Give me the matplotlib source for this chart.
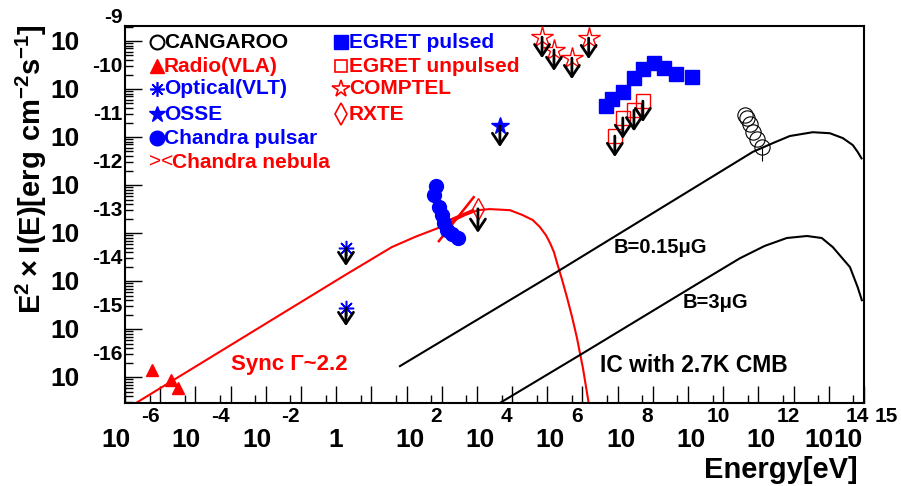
import matplotlib
matplotlib.use("Agg")
import matplotlib.pyplot as plt
from matplotlib.transforms import offset_copy

plt.rcParams["font.family"] = ["Liberation Sans", "DejaVu Sans"]
plt.rcParams["font.weight"] = "bold"
plt.rcParams["mathtext.fontset"] = "custom"
plt.rcParams["mathtext.rm"] = "Liberation Sans"
plt.rcParams["mathtext.bf"] = "Liberation Sans:bold"

RED = "#ff0000"
BLUE = "#0000ff"

# ── data (energy in eV, E^2 I(E) in erg cm^-2 s^-1) ────────────────────────────
sync_E = [1.0e-6, 1.78, 38, 173, 780, 4.6e3, 1.07e4, 2.3e4, 8.7e4, 2.0e5, 3.9e5,
          6.2e5, 9.1e5, 1.2e6, 1.55e6, 1.9e6, 2.6e6, 3.6e6, 5.0e6, 6.9e6,
          1.03e7, 1.5e7, 1.85e7]
sync_F = [2.1e-17, 1.33e-14, 5.1e-14, 8.3e-14, 1.27e-13, 2.37e-13, 3.0e-13,
          3.16e-13, 3.0e-13, 2.37e-13, 1.86e-13, 1.33e-13, 9.1e-14, 6.2e-14,
          4.0e-14, 2.37e-14, 1.1e-14, 4.7e-15, 1.86e-15, 6.8e-16, 1.55e-16,
          2.9e-17, 1.26e-17]

ic015_E = [65, 1.86e6, 6.9e11, 2.6e12, 7.8e12, 3.5e13, 1.07e14, 2.5e14,
           4.8e14, 6.6e14, 8.5e14]
ic015_F = [1.7e-16, 1.55e-14, 4.9e-12, 7.5e-12, 1.05e-11, 1.26e-11, 1.2e-11,
           9.5e-12, 6.8e-12, 4.9e-12, 3.6e-12]

ic3_E = [3.2e4, 8.5e6, 2.2e10, 3.0e11, 1.5e12, 6.4e12, 2.4e13, 6.3e13,
         1.3e14, 4.0e14, 6.6e14, 8.7e14]
ic3_F = [2.5e-17, 2.9e-16, 9.5e-15, 3.0e-14, 5.4e-14, 7.9e-14, 8.7e-14,
         7.9e-14, 5.1e-14, 1.95e-14, 7.5e-15, 4.0e-15]

radio_E = [5.8e-6, 2.0e-5, 3.2e-5]
radio_F = [1.4e-16, 8.7e-17, 5.9e-17]

optical_E = [1.9, 1.9]
optical_F = [4.9e-14, 2.75e-15]

osse_E = [4.5e4]
osse_F = [1.7e-11]

comptel_E = [7.1e5, 1.55e6, 5.0e6, 1.5e7]
comptel_F = [1.2e-9, 6.5e-10, 4.4e-10, 1.15e-9]

egret_p_E = [4.6e7, 6.8e7, 1.4e8, 2.9e8, 5.2e8, 1.07e9, 2.05e9, 4.5e9, 1.3e10]
egret_p_F = [4.4e-11, 6.2e-11, 8.7e-11, 1.7e-10, 2.6e-10, 3.5e-10, 2.7e-10,
             2.05e-10, 1.78e-10]

egret_u_E = [8.3e7, 1.4e8, 2.9e8, 5.2e8]
egret_u_F = [1.05e-11, 2.5e-11, 3.6e-11, 5.6e-11]

rxte_E = [1.07e4]
rxte_F = [3.2e-13]

chandra_psr_E = [684, 600, 830, 1.0e3, 1.15e3, 1.4e3, 1.96e3, 2.9e3]
chandra_psr_F = [9.5e-13, 6.2e-13, 3.5e-13, 2.4e-13, 1.6e-13, 1.15e-13,
                 9.5e-14, 7.9e-14]

neb_steep_E = [830, 8.1e3]
neb_steep_F = [6.8e-14, 5.6e-13]
neb_flat_E = [1.23e3, 7.7e3]
neb_flat_F = [1.7e-13, 3.0e-13]

cangaroo_E = [4.1e11, 4.7e11, 5.7e11, 6.9e11, 9.0e11, 1.25e12]
cangaroo_F = [2.9e-11, 2.5e-11, 1.87e-11, 1.26e-11, 9.1e-12, 6.2e-12]
cangaroo_lo = [0, 0, 0, 0, 0, 3.2e-12]

x_exponents = [-6, -4, -2, 0, 2, 4, 6, 8, 10, 12, 14, 15]
y_exponents = [-16, -15, -14, -13, -12, -11, -10, -9]

W, H = 901, 486
fig = plt.figure(figsize=(W / 100, H / 100), dpi=100)
ax = fig.add_axes([125 / W, 1 - 403 / H, 739 / W, 377 / H])
ax.set_xscale("log")
ax.set_yscale("log")

# ── curves ─────────────────────────────────────────────────────────────────────
ax.plot(sync_E, sync_F, color=RED, lw=1.5)
ax.plot(ic015_E, ic015_F, color="black", lw=1.5)
ax.plot(ic3_E, ic3_F, color="black", lw=1.5)
ax.plot(neb_steep_E, neb_steep_F, color=RED, lw=1.8)
ax.plot(neb_flat_E, neb_flat_F, color=RED, lw=1.8)


def down_arrows(E, F, length=20):
    tip = offset_copy(ax.transData, fig=fig, x=0, y=-length, units="dots")
    for e, f in zip(E, F):
        ax.annotate("", xy=(e, f), xycoords=tip, xytext=(e, f), textcoords="data",
                    arrowprops=dict(arrowstyle="->,head_length=0.45,head_width=0.3",
                                    color="black", lw=2, shrinkA=0, shrinkB=0,
                                    mutation_scale=18), zorder=6)


# ── data points ────────────────────────────────────────────────────────────────
ax.plot(radio_E, radio_F, "^", color=RED, ms=9, zorder=5)
ax.plot(optical_E, optical_F, ls="none", marker=(8, 2, 0), color=BLUE, ms=11, mew=1.1, zorder=5)
down_arrows(optical_E, optical_F, 18)
ax.plot(osse_E, osse_F, "*", color=BLUE, ms=13, zorder=5)
down_arrows(osse_E, osse_F, 21)
ax.plot(comptel_E, comptel_F, "*", mfc="white", mec=RED, ms=16, mew=1, zorder=5)
down_arrows(comptel_E, comptel_F, 21)
ax.plot(egret_p_E, egret_p_F, "s", color=BLUE, ms=9.5, zorder=5)
ax.plot(egret_u_E, egret_u_F, "s", mfc="none", mec=RED, ms=9.5, mew=1, zorder=5)
down_arrows(egret_u_E, egret_u_F, 21)
ax.plot(rxte_E, rxte_F, "d", mfc="none", mec=RED, ms=11, mew=1, zorder=5)
down_arrows(rxte_E, rxte_F, 24)
ax.plot(chandra_psr_E, chandra_psr_F, "o", color=BLUE, ms=10, zorder=5)
ax.errorbar(cangaroo_E[-1:], cangaroo_F[-1:],
            yerr=[[cangaroo_F[-1] - cangaroo_lo[-1]], [0]],
            fmt="none", ecolor="black", elinewidth=0.8, capsize=0)
ax.plot(cangaroo_E, cangaroo_F, "o", mfc="none", mec="black", ms=11, mew=0.8, zorder=5)

# ── text in plot ───────────────────────────────────────────────────────────────
ax.text(1e-3, 1.86e-16, "Sync \u0393~2.2", color=RED, fontsize=16, va="center")
ax.text(7.8e7, 4.9e-14, "B=0.15\u03bcG", color="black", fontsize=14.5, va="center")
ax.text(7.1e9, 3.6e-15, "B=3\u03bcG", color="black", fontsize=14.5, va="center")
ax.text(3.1e7, 1.78e-16, "IC with 2.7K CMB", color="black", fontsize=16.5, va="center")

# ── axes style (ROOT-like) ─────────────────────────────────────────────────────
for s in ax.spines.values():
    s.set_linewidth(1.5)
ax.set_xticks([10.0 ** n for n in range(-6, 16)])
ax.set_xticks([5 * 10.0 ** n for n in range(-6, 15)], minor=True)
ax.set_yticks([10.0 ** n for n in range(-17, -8)])
ax.set_yticks([m * 10.0 ** n for n in range(-17, -8) for m in range(2, 10)], minor=True)
ax.set_xlim(1e-6, 1e15)
ax.set_ylim(2.9e-17, 2.05e-9)
ax.tick_params(which="both", direction="in", labelbottom=False, labelleft=False,
               top=False, right=False, width=1)
ax.tick_params(which="major", length=12)
ax.tick_params(which="minor", length=6)

ytr = ax.get_yaxis_transform()
ytr_up = offset_copy(ytr, fig=fig, x=0, y=23, units="dots")
ytr_dn = offset_copy(ytr, fig=fig, x=0, y=-2, units="dots")
for n in y_exponents:
    ax.text(-45 / 739, 10.0 ** n, "10", transform=ytr_dn, ha="right", va="center",
            fontsize=19, clip_on=False)
    ax.text(-2 / 739, 10.0 ** n, str(n), transform=ytr_up, ha="right", va="center",
            fontsize=15, clip_on=False)

xtr = ax.get_xaxis_transform()
for n in x_exponents:
    if n == 0:
        ax.text(1.0, -37 / 377, "1", transform=xtr, ha="center", va="center",
                fontsize=19, clip_on=False)
        continue
    if n < 0:
        bdx, edx = -9, 25
    elif n < 14:
        bdx, edx = 3, 30
    elif n == 14:
        bdx, edx = -10, 29
    else:
        bdx, edx = -16, 22
    tb = offset_copy(xtr, fig=fig, x=bdx, y=0, units="dots")
    te = offset_copy(xtr, fig=fig, x=edx, y=0, units="dots")
    ax.text(10.0 ** n, -37 / 377, "10", transform=tb, ha="center", va="center",
            fontsize=19, clip_on=False)
    ax.text(10.0 ** n, -13 / 377, str(n), transform=te, ha="center", va="center",
            fontsize=15, clip_on=False)

# axis titles
fig.text(858 / W, 1 - 478 / H, "Energy[eV]", ha="right", va="baseline", fontsize=21)
fig.text(31 / W, 1 - 24 / H,
         r"$\mathbf{E^{2}}\times\mathbf{I(E)[erg\ cm^{-2}s^{-1}]}$",
         rotation=90, ha="center", va="top", fontsize=21)

# ── legend (symbols + labels) ──────────────────────────────────────────────────
legend_left = [
    ("CANGAROO", "black", dict(marker="o", mfc="none", mec="black", ms=10, mew=1.5)),
    ("Radio(VLA)", RED, dict(marker="^", color=RED, ms=10.5)),
    ("Optical(VLT)", BLUE, dict(marker=(8, 2, 0), color=BLUE, ms=10.5, mew=1.2)),
    ("OSSE", BLUE, dict(marker="*", color=BLUE, ms=12)),
    ("Chandra pulsar", BLUE, dict(marker="o", color=BLUE, ms=10.5)),
    ("Chandra nebula", RED, None),
]
legend_right = [
    ("EGRET pulsed", BLUE, dict(marker="s", color=BLUE, ms=9.5)),
    ("EGRET unpulsed", RED, dict(marker="s", mfc="white", mec=RED, ms=9, mew=1.2)),
    ("COMPTEL", RED, dict(marker="*", mfc="white", mec=RED, ms=13, mew=1.2)),
    ("RXTE", RED, dict(marker="d", mfc="white", mec=RED, ms=11, mew=1.2)),
]
rows_y = [42, 66, 89, 114, 138, 162]
for (label, col, mk), y in zip(legend_left, rows_y):
    if mk is None:
        fig.text(149 / W, 1 - y / H, "><", color=col, fontsize=15, weight="normal",
                 ha="left", va="center")
        fig.text(172 / W, 1 - y / H, label, color=col, fontsize=15, va="center")
    else:
        ax.plot([157 / W], [1 - y / H], transform=fig.transFigure, clip_on=False, ls="none", **mk)
        fig.text(164 / W, 1 - y / H, label, color=col, fontsize=15, va="center")
for (label, col, mk), y in zip(legend_right, rows_y):
    ax.plot([341 / W], [1 - y / H], transform=fig.transFigure, clip_on=False, ls="none", **mk)
    fig.text(349 / W, 1 - y / H, label, color=col, fontsize=15, va="center")

fig.savefig("out.png", dpi=100)
